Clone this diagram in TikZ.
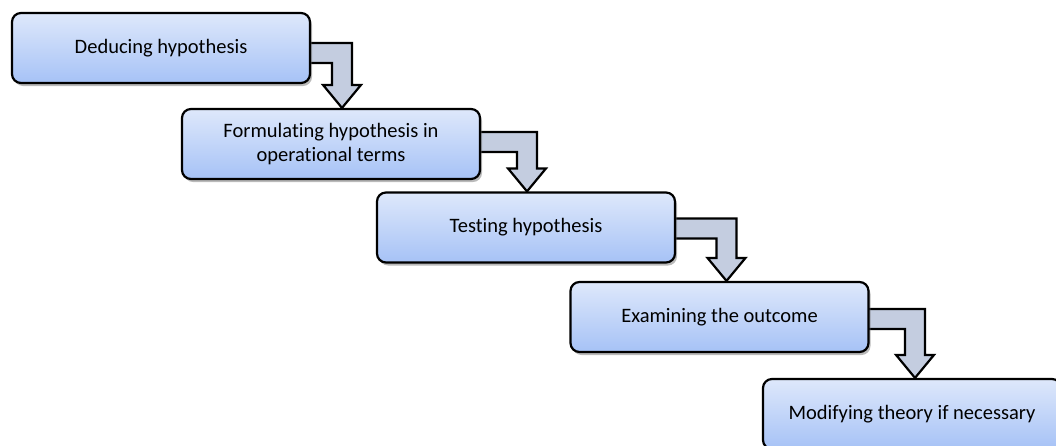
\documentclass[tikz,border=0pt]{standalone}
\usepackage{fontspec}
\setmainfont{Carlito}[Ligatures=NoCommon]
\usepackage{tikz}
\usetikzlibrary{calc,shadows,backgrounds}

\definecolor{boxtop}{RGB}{222,232,251}
\definecolor{boxbottom}{RGB}{166,194,246}
\definecolor{arrowfill}{RGB}{196,205,224}

\begin{document}
\begin{tikzpicture}[
    x=1pt, y=-1pt,
    every node/.style={font=\fontsize{20.5}{24.5}\selectfont},
    stage/.style={draw=black, line width=2.2pt, rounded corners=9pt,
        minimum width=298pt, minimum height=70pt, inner sep=0pt, align=center,
        top color=boxtop, bottom color=boxbottom,
        drop shadow={shadow xshift=2pt, shadow yshift=-3pt, fill=black!60, opacity=.45}},
    bigarrow/.style={draw=black, line width=2.2pt, fill=arrowfill, line join=miter}
]
\useasboundingbox (0,0) rectangle (1056,445);

\node[stage] (deduce) at (161,48) {Deducing hypothesis};
\node[stage] (formulate) at (331,144) {Formulating hypothesis in\\operational terms};
\node[stage] (test) at (526,227.5) {Testing hypothesis};
\node[stage] (examine) at (719.5,317) {Examining the outcome};
\node[stage] (modify) at (912,414) {Modifying theory if necessary};

% elbow arrows between the stages
\begin{scope}[on background layer]
\foreach \a/\b/\s/\v in {deduce/formulate/11/5, formulate/test/1/-2, test/examine/7/1, examine/modify/3/2}{
    \coordinate (s) at ($(\a.east)+(-8,\v)$);
    \coordinate (t) at ($(\b.north)+(\s,0)$);
    \draw[bigarrow] ($(s)+(0,-10)$) -- ($(t |- s)+(10,-10)$) -- ($(t)+(10,-23)$)
        -- ($(t)+(19,-23)$) -- (t) -- ($(t)+(-19,-23)$) -- ($(t)+(-10,-23)$)
        -- ($(t |- s)+(-10,10)$) -- ($(s)+(0,10)$) -- cycle;
}
\end{scope}

\end{tikzpicture}
\end{document}
